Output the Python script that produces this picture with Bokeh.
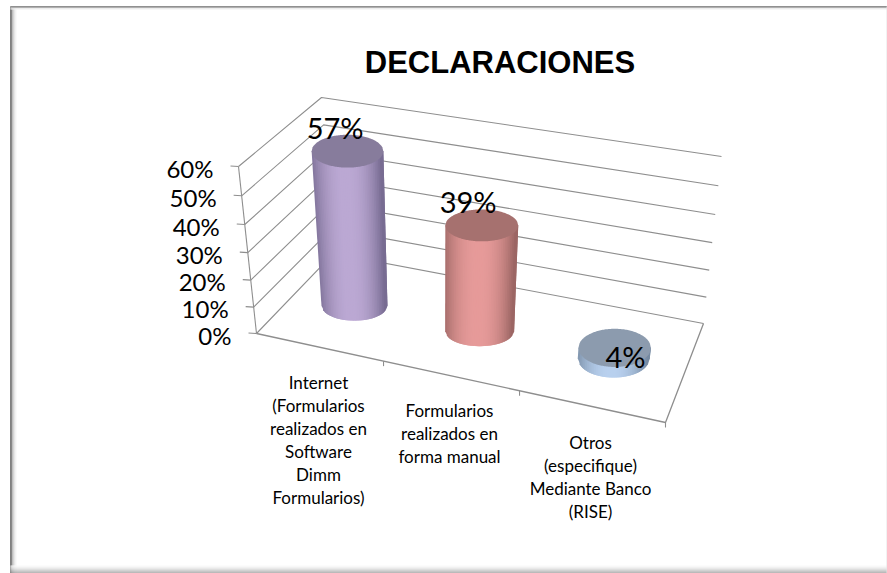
from bokeh.plotting import figure
from bokeh.models import Range1d
from bokeh.core.properties import value
from bokeh.embed import file_html
from bokeh.resources import INLINE

# Chart content
title = "DECLARACIONES"
categories = [
    ["Internet", "(Formularios", "realizados en", "Software", "Dimm", "Formularios)"],
    ["Formularios", "realizados en", "forma manual"],
    ["Otros", "(especifique)", "Mediante Banco", "(RISE)"],
]
percentages = [57, 39, 4]
axis_ticks = [0, 10, 20, 30, 40, 50, 60]
axis_max = 60

# Cylinder colours: (edge of the side, centre of the side, top cap)
cylinder_colors = [
    ((0x78, 0x6C, 0x92), (0xBC, 0xA9, 0xD4), (0x87, 0x7C, 0x9C)),
    ((0x9C, 0x66, 0x64), (0xE7, 0x9B, 0x9A), (0xA6, 0x71, 0x6F)),
    ((0x76, 0x8A, 0xA2), (0xB9, 0xD1, 0xEF), (0x8C, 0x9B, 0xAE)),
]

# Box corners in screen space: floor and wall-top points of the 3D plot area
FRONT_LEFT_0, FRONT_RIGHT_0 = (256, 333), (665, 422)
BACK_LEFT_0, BACK_RIGHT_0 = (333, 253), (703, 323)
FRONT_LEFT_T, FRONT_RIGHT_T = (238, 166), (684, 245)
BACK_LEFT_T, BACK_RIGHT_T = (321, 97), (721, 156)


def lerp(a, b, t):
    return a + (b - a) * t


def lerp_pt(a, b, t):
    return (lerp(a[0], b[0], t), lerp(a[1], b[1], t))


def persp(t, k):
    return t / (t + k * (1 - t)) if t > 0 else 0.0


def project(u, depth, v):
    """Map category position u, depth and axis value v onto the page."""
    s = persp(u, 1.11)
    h = persp(v / axis_max, 1.065)
    front = lerp_pt(lerp_pt(FRONT_LEFT_0, FRONT_LEFT_T, h), lerp_pt(FRONT_RIGHT_0, FRONT_RIGHT_T, h), s)
    back = lerp_pt(lerp_pt(BACK_LEFT_0, BACK_LEFT_T, h), lerp_pt(BACK_RIGHT_0, BACK_RIGHT_T, h), s)
    return lerp_pt(front, back, depth)


p = figure(
    width=887, height=573, x_range=Range1d(0, 887), y_range=Range1d(573, 0),
    x_axis_type=None, y_axis_type=None, toolbar_location=None, output_backend="svg",
    min_border=0, outline_line_color=None, background_fill_color="white", border_fill_color="white",
)
p.grid.visible = False

# Window-like frame with soft inner shadows
for i, gray in enumerate([0x80, 0x90, 0xB4, 0xD0, 0xE6, 0xF5]):
    c = (gray, gray, gray)
    p.line([10.5 + i, 10.5 + i], [6, 573], line_color=c, line_width=1 if i else 2)
for i, gray in enumerate([0x90, 0xD0, 0xF0]):
    c = (gray, gray, gray)
    p.line([10, 887], [6.5 + i, 6.5 + i], line_color=c, line_width=1 if i else 2)
for i, gray in enumerate([0x98, 0xA8, 0xB8, 0xC8, 0xD8, 0xE6, 0xF0, 0xF8]):
    c = (gray, gray, gray)
    p.line([10, 887], [572.5 - i, 572.5 - i], line_color=c, line_width=1)
p.line([886.5, 886.5], [6, 573], line_color="#E4E4E4", line_width=1)

GRID = "#8E8E8E"
# Gridlines across the left wall and the back wall
for v in axis_ticks:
    a = project(0, 0, v)
    b = project(0, 1, v)
    c = project(1, 1, v)
    p.line([a[0], b[0], c[0]], [a[1], b[1], c[1]], line_color=GRID, line_width=1.1)
    p.line([a[0] - 8, a[0]], [a[1] - 0.5, a[1]], line_color=GRID, line_width=1.1)
    p.text([a[0] - 25], [a[1] + 1.5], text=[f"{v}%"], text_font=value("Lato"), text_font_size="24px",
           text_color="#000000", text_align="right", text_baseline="middle")

# Value axis and floor outline
lo, hi = project(0, 0, 0), project(0, 0, axis_max)
p.line([lo[0], hi[0]], [lo[1], hi[1]], line_color=GRID, line_width=1.1)
fr, br = project(1, 0, 0), project(1, 1, 0)
p.line([lo[0], fr[0], br[0]], [lo[1], fr[1], br[1]], line_color=GRID, line_width=1.3)
for i in range(1, 4):
    t = project(i / 3, 0, 0)
    p.line([t[0], t[0]], [t[1], t[1] + 5], line_color=GRID, line_width=1.1)

# Cylinders: side built from narrow shaded strips, then the top cap and its label
STRIPS = 40
base_rx = [33, 34.5, 36.0]
base_ry = [15, 15, 19]
for i, val in enumerate(percentages):
    u = (i + 0.5) / len(percentages)
    bx, by = project(u, 0.5, 0)
    tx, ty = project(u, 0.5, val)
    grow = val / axis_max
    tx += 2.5 * grow
    rx_b, ry_b = base_rx[i], base_ry[i]
    rx_t, ry_t = rx_b + 3 * grow, ry_b + 1.5 * grow
    edge, mid, cap = cylinder_colors[i]

    xs, ys, cols = [], [], []
    for k in range(STRIPS):
        f0, f1 = -1 + 2 * k / STRIPS, -1 + 2 * (k + 2) / STRIPS
        f1 = min(f1, 1)
        fm = -1 + 2 * (k + 0.5) / STRIPS
        shade = abs(fm + 0.08) ** 2.2
        cols.append(tuple(int(lerp(mid[j], edge[j], min(shade, 1))) for j in range(3)))
        sx = [tx + rx_t * f0, tx + rx_t * f1, bx + rx_b * f1, bx + rx_b * f0]
        sy = [
            ty,
            ty,
            by + ry_b * (1 - f1 * f1) ** 0.5,
            by + ry_b * (1 - f0 * f0) ** 0.5,
        ]
        xs.append(sx)
        ys.append(sy)
    p.patches(xs, ys, fill_color=cols, line_color=None)

    # Rim points of the top cap
    cap_x, cap_y = [], []
    n = 72
    for k in range(n + 1):
        f = -1 + 2 * k / n
        cap_x.append(tx + rx_t * f)
        cap_y.append(ty - ry_t * (1 - f * f) ** 0.5)
    for k in range(n, -1, -1):
        f = -1 + 2 * k / n
        cap_x.append(tx + rx_t * f)
        cap_y.append(ty + ry_t * (1 - f * f) ** 0.5)
    p.patch(cap_x, cap_y, fill_color=cap, line_color=None)

# Data labels, placed relative to each cylinder top
label_dx = [-10, -12, 11]
label_dy = [-24, -24, 9]
for i, val in enumerate(percentages):
    u = (i + 0.5) / len(percentages)
    tx, ty = project(u, 0.5, val)
    p.text([tx + label_dx[i]], [ty + label_dy[i]], text=[f"{val}%"], text_font=value("Lato"),
           text_font_size="29px", text_color="#000000", text_align="center", text_baseline="middle")

# Category labels under the floor edge
label_x = [318, 449, 590]
label_y = [382, 410, 442]
LINE_STEP = 22.9
for lines, x0, y0 in zip(categories, label_x, label_y):
    for n, line in enumerate(lines):
        p.text([x0], [y0 + n * LINE_STEP], text=[line], text_font=value("Lato"), text_font_size="17px",
               text_color="#000000", text_align="center", text_baseline="middle")

p.text([499.5], [62], text=[title], text_font=value("Liberation Sans"), text_font_style="bold",
       text_font_size="31px", text_color="#000000", text_align="center", text_baseline="middle")

open("out.html", "w").write(file_html(p, INLINE))
